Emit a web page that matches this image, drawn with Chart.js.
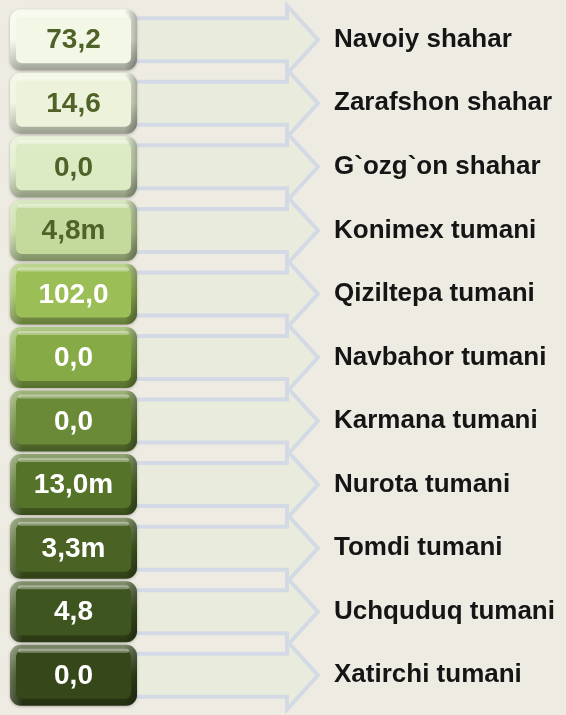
<!DOCTYPE html>
<html>
<head>
<meta charset="utf-8">
<script src="https://cdn.jsdelivr.net/npm/chart.js@4.4.1/dist/chart.umd.min.js"></script>
<style>
  html, body { margin: 0; padding: 0; background: #EEEBE2; }
  #wrap { width: 566px; height: 715px; position: relative; }
</style>
</head>
<body>
<div id="wrap"><canvas id="chart"></canvas></div>
<script>
const districts = ["Navoiy shahar", "Zarafshon shahar", "G`ozg`on shahar", "Konimex tumani", "Qiziltepa tumani",
  "Navbahor tumani", "Karmana tumani", "Nurota tumani", "Tomdi tumani", "Uchquduq tumani", "Xatirchi tumani"];
const values = [73.2, 14.6, 0.0, 4.8, 102.0, 0.0, 0.0, 13.0, 3.3, 4.8, 0.0];
const units = ["", "", "", "m", "", "", "", "m", "m", "", ""];
const boxColors = ["#F3F8E6", "#ECF3DA", "#DCEBC3", "#C3DA9C", "#9BBE57", "#86AA46", "#6B8A37",
  "#56732A", "#4A6324", "#3F551F", "#36481A"];
const textColors = ["#4F6228", "#4F6228", "#4F6228", "#4F6228", "#fff", "#fff", "#fff", "#fff", "#fff", "#fff", "#fff"];

const fmt = (v, u) => v.toFixed(1).replace(".", ",") + u;

function shade(hex, amt) {
  const n = parseInt(hex.slice(1), 16);
  const ch = [(n >> 16) & 255, (n >> 8) & 255, n & 255].map((c) =>
    Math.max(0, Math.min(255, Math.round(amt < 0 ? c * (1 + amt) : c + (255 - c) * amt))));
  return `rgb(${ch.join(",")})`;
}

function roundRect(ctx, x, y, w, h, r) {
  ctx.beginPath();
  ctx.moveTo(x + r, y);
  ctx.arcTo(x + w, y, x + w, y + h, r);
  ctx.arcTo(x + w, y + h, x, y + h, r);
  ctx.arcTo(x, y + h, x, y, r);
  ctx.arcTo(x, y, x + w, y, r);
  ctx.closePath();
}

const tiles = {
  id: "tiles",
  afterDatasetsDraw(chart) {
    const { ctx } = chart;
    const yScale = chart.scales.y;
    const left = chart.chartArea.left;
    const right = chart.chartArea.right;
    const boxW = 127, boxH = 61;
    ctx.save();
    // arrows first
    districts.forEach((_, i) => {
      const cy = yScale.getPixelForValue(i);
      const shaftHalf = 21.5, headHalf = 34, headBack = right - 33;
      ctx.beginPath();
      ctx.moveTo(left + 100, cy - shaftHalf);
      ctx.lineTo(headBack, cy - shaftHalf);
      ctx.lineTo(headBack, cy - headHalf);
      ctx.lineTo(right - 2, cy);
      ctx.lineTo(headBack, cy + headHalf);
      ctx.lineTo(headBack, cy + shaftHalf);
      ctx.lineTo(left + 100, cy + shaftHalf);
      ctx.closePath();
      ctx.fillStyle = "#E9ECDD";
      ctx.fill();
      ctx.lineWidth = 4;
      ctx.strokeStyle = "#D3DAE6";
      ctx.lineJoin = "miter";
      ctx.stroke();
    });
    // value tiles
    values.forEach((v, i) => {
      const cy = yScale.getPixelForValue(i);
      const x = left, y = cy - boxH / 2;
      const base = boxColors[i];
      ctx.shadowColor = "rgba(0,0,0,0.25)";
      ctx.shadowBlur = 3;
      ctx.shadowOffsetY = 1;
      const g = ctx.createLinearGradient(0, y, 0, y + boxH);
      g.addColorStop(0, shade(base, 0.35));
      g.addColorStop(0.5, base);
      g.addColorStop(1, shade(base, -0.35));
      roundRect(ctx, x, y, boxW, boxH, 11);
      ctx.fillStyle = g;
      ctx.fill();
      ctx.shadowColor = "transparent";
      const gh = ctx.createLinearGradient(x, 0, x + boxW, 0);
      gh.addColorStop(0, "rgba(255,255,255,0.25)");
      gh.addColorStop(0.1, "rgba(255,255,255,0)");
      gh.addColorStop(0.9, "rgba(0,0,0,0)");
      gh.addColorStop(1, "rgba(0,0,0,0.3)");
      roundRect(ctx, x, y, boxW, boxH, 11);
      ctx.fillStyle = gh;
      ctx.fill();
      roundRect(ctx, x + 6, y + 6, boxW - 12, boxH - 13, 6);
      ctx.fillStyle = base;
      ctx.fill();
      roundRect(ctx, x + 8, y + 4, boxW - 16, 4, 2);
      ctx.fillStyle = "rgba(255,255,255,0.35)";
      ctx.fill();
      ctx.fillStyle = textColors[i];
      ctx.font = "bold 28px 'Liberation Sans', Arial, sans-serif";
      ctx.textAlign = "center";
      ctx.textBaseline = "middle";
      ctx.fillText(fmt(v, units[i]), x + boxW / 2, cy + 1);
    });
    ctx.restore();
  }
};

new Chart(document.getElementById("chart"), {
  type: "bar",
  data: {
    labels: districts,
    datasets: [{ data: values, backgroundColor: "transparent", borderWidth: 0 }]
  },
  options: {
    indexAxis: "y",
    responsive: true,
    maintainAspectRatio: false,
    animation: false,
    layout: { padding: { left: 10, top: 8, bottom: 8, right: 0 } },
    plugins: { legend: { display: false }, tooltip: { enabled: false } },
    scales: {
      x: { display: false, min: 0, max: 110 },
      y: {
        position: "right",
        grid: { display: false, drawTicks: false },
        border: { display: false },
        afterFit: (scale) => {
          scale.width = 246;
          scale.paddingTop = 0;
          scale.paddingBottom = 0;
        },
        ticks: {
          color: "#151515",
          padding: 14,
          crossAlign: "near",
          font: { family: "'Liberation Sans', Arial, sans-serif", size: 26, weight: "bold" }
        }
      }
    }
  },
  plugins: [tiles]
});
</script>
</body>
</html>
